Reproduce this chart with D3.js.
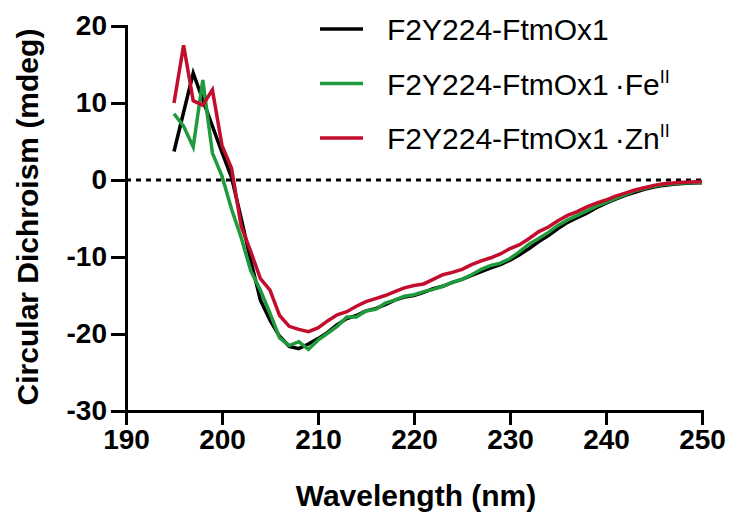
<html>
<head>
<meta charset="utf-8">
<style>
  body { margin: 0; background: #fff; }
  .chart text { font-family: Arial, "Liberation Sans", sans-serif; fill: #000; }
  .axis path, .axis line { stroke: #000; stroke-width: 3; }
  .axis text { font-size: 28px; font-weight: bold; }
</style>
</head>
<body>
<svg class="chart"></svg>
<script src="https://d3js.org/d3.v7.min.js"></script>
<script>
var wavelengths = d3.range(195, 251);   // 195..250 nm, 1 nm step

var apo = [3.7, 8.8, 13.9, 10.4, 7.0, 3.6, 0.3, -5.0, -10.5, -15.6,
  -18.2, -20.3, -21.6, -21.9, -21.3, -20.6, -19.8, -18.8, -18.0, -17.6,
  -17.0, -16.7, -16.2, -15.6, -15.2, -15.0, -14.6, -14.1, -13.8, -13.3,
  -12.9, -12.4, -11.9, -11.4, -11.0, -10.4, -9.7, -8.9, -8.0, -7.2,
  -6.3, -5.5, -4.9, -4.3, -3.6, -3.0, -2.5, -2.0, -1.6, -1.2,
  -0.9, -0.7, -0.55, -0.45, -0.4, -0.35];

var fe = [8.6, 7.0, 4.3, 13.0, 3.5, 0.5, -3.8, -7.5, -11.8, -14.3,
  -17.3, -20.5, -21.5, -21.0, -22.0, -20.8, -19.9, -19.0, -17.8, -17.8,
  -17.0, -16.8, -16.0, -15.6, -15.1, -14.9, -14.5, -14.2, -13.8, -13.3,
  -12.9, -12.3, -11.6, -11.1, -10.8, -10.2, -9.3, -8.3, -7.6, -6.8,
  -5.9, -5.2, -4.6, -4.0, -3.4, -2.9, -2.4, -1.9, -1.4, -1.1,
  -0.8, -0.6, -0.5, -0.4, -0.35, -0.3];

var zn = [10.0, 17.5, 10.3, 9.7, 11.7, 4.5, 1.5, -6.0, -9.3, -12.8,
  -14.3, -17.6, -19.0, -19.4, -19.7, -19.2, -18.3, -17.5, -17.1, -16.4,
  -15.8, -15.4, -15.0, -14.5, -14.0, -13.7, -13.5, -12.9, -12.3, -12.0,
  -11.6, -11.0, -10.5, -10.1, -9.6, -8.9, -8.4, -7.6, -6.7, -6.1,
  -5.3, -4.6, -4.1, -3.5, -3.0, -2.6, -2.1, -1.7, -1.3, -1.0,
  -0.7, -0.5, -0.4, -0.3, -0.25, -0.2];

var seriesNames = ['F2Y224-FtmOx1', 'F2Y224-FtmOx1\u2009\u00b7Fe', 'F2Y224-FtmOx1\u2009\u00b7Zn'];
var seriesSup = ['', 'II', 'II'];
var seriesColors = ['#000000', '#1f9a3c', '#c30d2c'];
var xTicks = [190, 200, 210, 220, 230, 240, 250];
var yTicks = [20, 10, 0, -10, -20, -30];

var width = 729, height = 515;
var svg = d3.select('.chart').attr('width', width).attr('height', height);

var x = d3.scaleLinear().domain([190, 250]).range([126, 702]);
var y = d3.scaleLinear().domain([-30, 20]).range([411, 26]);

// zero line
svg.append('line')
  .attr('x1', x(190)).attr('x2', x(250))
  .attr('y1', y(0)).attr('y2', y(0))
  .attr('stroke', '#000').attr('stroke-width', 3)
  .attr('stroke-dasharray', '5,5');

// axes (plain hyphen for negatives, like the original)
var plain = function(d) { return String(d); };

svg.append('g').attr('class', 'axis')
  .attr('transform', 'translate(0,' + y(-30) + ')')
  .call(d3.axisBottom(x).tickValues(xTicks).tickFormat(plain).tickSize(14).tickPadding(4).tickSizeOuter(0))
  .call(function(g) { g.select('.domain').attr('stroke-linecap', 'square'); });

svg.append('g').attr('class', 'axis')
  .attr('transform', 'translate(' + x(190) + ',0)')
  .call(d3.axisLeft(y).tickValues(yTicks).tickFormat(plain).tickSize(15).tickPadding(4).tickSizeOuter(0))
  .call(function(g) { g.select('.domain').attr('stroke-linecap', 'square'); });

// curves
var line = d3.line()
  .x(function(d) { return x(d[0]); })
  .y(function(d) { return y(d[1]); });

[apo, fe, zn].forEach(function(vals, i) {
  svg.append('path')
    .datum(wavelengths.map(function(w, j) { return [w, vals[j]]; }))
    .attr('d', line)
    .attr('fill', 'none')
    .attr('stroke', seriesColors[i])
    .attr('stroke-width', 3.5)
    .attr('stroke-linejoin', 'miter');
});

// axis titles
svg.append('text')
  .attr('x', 416).attr('y', 506)
  .attr('text-anchor', 'middle')
  .style('font-size', '30px').style('font-weight', 'bold')
  .text('Wavelength (nm)');

svg.append('text')
  .attr('transform', 'translate(38,217) rotate(-90)')
  .attr('text-anchor', 'middle')
  .style('font-size', '30px').style('font-weight', 'bold')
  .text('Circular Dichroism (mdeg)');

// legend
var legend = svg.append('g');
seriesNames.forEach(function(name, i) {
  var ly = 29 + i * 54.5;
  legend.append('line')
    .attr('x1', 320).attr('x2', 363)
    .attr('y1', ly).attr('y2', ly)
    .attr('stroke', seriesColors[i]).attr('stroke-width', 3.5);
  var t = legend.append('text')
    .attr('x', 387).attr('y', ly + 11)
    .style('font-size', '30px');
  t.append('tspan').text(name);
  if (seriesSup[i]) {
    t.append('tspan').attr('dy', -12).style('font-size', '18px').text(seriesSup[i]);
  }
});
</script>
</body>
</html>
